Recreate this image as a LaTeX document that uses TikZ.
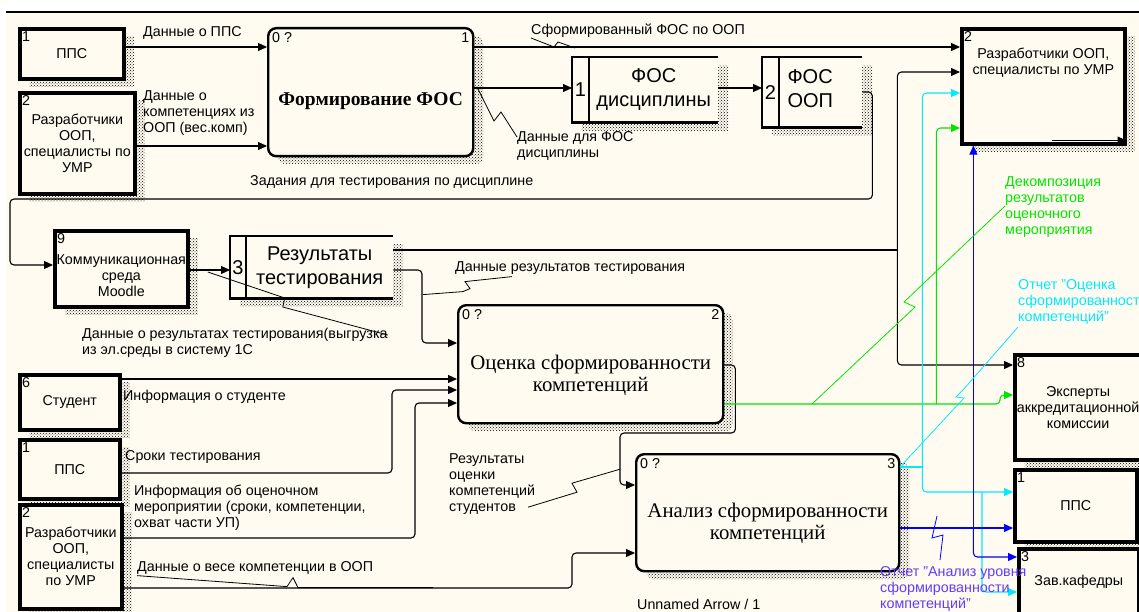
\documentclass[tikz,border=0pt]{standalone}
\usepackage{fontspec}
\setmainfont{Liberation Sans}
\newfontfamily\serifru{Liberation Serif}
\usetikzlibrary{arrows.meta,shadows,patterns}
\definecolor{bgcream}{RGB}{255,251,240}
\definecolor{idgreen}{RGB}{0,230,0}
\definecolor{idcyan}{RGB}{0,235,255}
\definecolor{idblue}{RGB}{0,0,255}
\definecolor{idviolet}{RGB}{100,60,250}
\newcommand{\lblfont}{\fontsize{14.3}{16}\selectfont}
\newcommand{\actfont}{\serifru\fontsize{20.8}{22}\selectfont}
\newcommand{\storefont}{\fontsize{20}{24}\selectfont}
\tikzset{
  idarr/.style={-{Triangle[length=9pt,width=8pt]}, line width=1.1pt, rounded corners=4pt},
  idline/.style={line width=1.1pt, rounded corners=4pt},
  idlead/.style={line width=0.8pt},
  idhatch/.style={drop shadow={shadow xshift=10pt, shadow yshift=-8pt, opacity=1, pattern=crosshatch dots, pattern color=black}},
}
\begin{document}
\begin{tikzpicture}[
  x=1pt, y=-1pt,
  font=\lblfont,
  extbox/.style={draw, line width=3.6pt, fill=bgcream, idhatch, align=center, inner sep=2pt, anchor=north west},
  actbox/.style={draw, line width=2.4pt, rounded corners=8pt, fill=bgcream, idhatch, anchor=north west},
  acttext/.style={font=\actfont, align=center, yshift=-11pt},
  storebox/.style={fill=bgcream, idhatch, anchor=north west, inner sep=0pt},
  boxno/.style={anchor=north west, inner sep=4pt, font=\lblfont},
  actno/.style={inner sep=5pt, font=\lblfont},
  storetxt/.style={font=\storefont, align=center},
  lbl/.style={inner sep=0pt, align=left},
]
  \useasboundingbox (0,0) rectangle (1139,612);
  \fill[white] (0,0) rectangle (1139,612);
  \fill[bgcream] (6,12) rectangle (1139,612);
  \draw[line width=1.4pt] (6,12) -- (1139,12);

  % sources and receivers
  \node[extbox, minimum width=104, minimum height=50, label={[boxno]north west:1}] (ppsA) at (18,27) {ППС};
  \node[extbox, minimum width=115, minimum height=101, label={[boxno]north west:2}] (razrA) at (18,91) {Разработчики\\ООП,\\специалисты по\\УМР};
  \node[extbox, minimum width=133, minimum height=76, label={[boxno]north west:9},
        label={[align=center, yshift=-7pt]center:{Коммуникационная\\среда\\Moodle}}] (moodle) at (53,229) {};
  \node[extbox, minimum width=100, minimum height=55, label={[boxno]north west:6}] (stud) at (18,373) {Студент};
  \node[extbox, minimum width=100, minimum height=59, label={[boxno]north west:1}] (ppsC) at (18,438) {ППС};
  \node[extbox, minimum width=102, minimum height=104, label={[boxno]north west:2}] (razrC) at (18,503) {Разработчики\\ООП,\\специалисты\\по УМР};
  \node[extbox, minimum width=163, minimum height=115, label={[boxno]north west:2},
        label={[anchor=north, yshift=-17pt, align=center]north:{Разработчики ООП,\\специалисты по УМР}}] (razrB) at (960,27) {};
  \node[extbox, minimum width=122, minimum height=105, label={[boxno]north west:8}] (exp) at (1013,353) {Эксперты\\аккредитационной\\комиссии};
  \node[extbox, minimum width=122, minimum height=72, label={[boxno]north west:1}] (ppsD) at (1013,468) {ППС};
  \node[extbox, minimum width=120, minimum height=65, label={[boxno]north west:3}] (zav) at (1017,547) {Зав.кафедры};

  % activities
  \node[actbox, minimum width=205, minimum height=128, label={[actno, anchor=north west]north west:0 ?},
        label={[actno, anchor=north east]north east:1},
        label={[acttext, yshift=2pt, font=\serifru\fontsize{19.5}{22}\selectfont\bfseries]center:Формирование ФОС}] (form) at (267,27) {};
  \node[actbox, minimum width=265, minimum height=118, label={[actno, anchor=north west]north west:0 ?},
        label={[actno, anchor=north east]north east:2},
        label={[acttext]center:{Оценка сформированности\\компетенций}}] (ocen) at (457,304) {};
  \node[actbox, minimum width=263, minimum height=117, label={[actno, anchor=north west]north west:0 ?},
        label={[actno, anchor=north east]north east:3},
        label={[acttext]center:{Анализ сформированности\\компетенций}}] (anal) at (635,453) {};

  % data stores
  \node[storebox, minimum width=146, minimum height=65, label={[anchor=center, xshift=8.5pt, font=\storefont]west:1},
        label={[storetxt, xshift=8.5pt]center:{ФОС\\дисциплины}}] (fosd) at (572,57) {};
  \node[storebox, minimum width=100, minimum height=70, label={[anchor=center, xshift=8.5pt, font=\storefont]west:2},
        label={[font=\storefont, align=left, anchor=west, xshift=22pt, yshift=4pt]west:{ФОС\\ООП}}] (fosoop) at (762,57) {};
  \node[storebox, minimum width=163, minimum height=62, label={[anchor=center, xshift=8pt, font=\storefont]west:3},
        label={[storetxt, xshift=8pt]center:{Результаты\\тестирования}}] (rez) at (230,236) {};
  \foreach \s/\d in {fosd/17, fosoop/17, rez/16}{
    \draw[line width=2.4pt] (\s.north east) -- (\s.north west) -- (\s.south west) -- (\s.south east);
    \draw[line width=2.4pt] ([xshift=\d]\s.north west) -- ([xshift=\d]\s.south west);
  }

  % black arrows
  \draw[idarr] ([yshift=-20]ppsA.north east) -- ([yshift=-20]form.north west);
  \draw[idarr] ([yshift=-55]razrA.north east) -- ([yshift=-119]form.north west);
  \draw[idarr] ([yshift=-20]form.north east) -- ([yshift=-20]razrB.north west);
  \draw[idarr] ([yshift=-61]form.north east) -- ([yshift=-31]fosd.north west);
  \draw[idarr] ([yshift=-31]fosd.north east) -- ([yshift=-31]fosoop.north west);
  \draw[idarr] ([yshift=-35]fosoop.north east) -- ++(10,0) -- ++(0,107) -| ([xshift=-43,yshift=-36]moodle.north west) -- ([yshift=-36]moodle.north west);
  \draw[idarr] ([yshift=-41]moodle.north east) -- ([yshift=-34]rez.north west);
  \draw[idline] ([yshift=-14]rez.north east) -- ++(504,0) coordinate (hfork);
  \draw[idarr] (hfork) |- ([yshift=-45]razrB.north west);
  \draw[idarr] (hfork) |- ([yshift=-12]exp.north west);
  \draw[idarr] ([yshift=-34]rez.north east) -| ([xshift=-35,yshift=-39]ocen.north west) -- ([yshift=-39]ocen.north west);
  \draw[idarr] ([yshift=-6]stud.north east) -- ([yshift=-75]ocen.north west);
  \draw[idarr] ([yshift=-35]ppsC.north east) -| ([xshift=-65,yshift=-86]ocen.north west) -- ([yshift=-86]ocen.north west);
  \draw[idarr] ([yshift=-35]razrC.north east) -| ([xshift=-42,yshift=-99]ocen.north west) -- ([yshift=-99]ocen.north west);
  \draw[idarr] ([yshift=-85]razrC.north east) -| ([xshift=-63,yshift=-100]anal.north west) -- ([yshift=-100]anal.north west);
  \draw[idarr] ([yshift=-61]ocen.north east) -- ++(11,0) -- ++(0,68) -| ([xshift=-15,yshift=-32]anal.north west) -- ([yshift=-32]anal.north west);
  \draw[idarr] ([xshift=-75,yshift=5]razrB.south east) -- ([yshift=5]razrB.south east);

  % coloured arrows
  \draw[idarr, draw=idgreen] ([yshift=-100]ocen.north east) -| ([xshift=-13,yshift=-42]exp.north west) -- ([yshift=-42]exp.north west);
  \coordinate (gfork) at ([xshift=212,yshift=-100]ocen.north east);
  \draw[idarr, draw=idgreen] (gfork) |- ([yshift=-101]razrB.north west);
  \draw[idline, draw=idcyan] ([yshift=-14]anal.north east) -- ++(22,0) coordinate (cfork);
  \draw[idarr, draw=idcyan] (cfork) |- ([yshift=-66]razrB.north west);
  \draw[idarr, draw=idcyan] (cfork) |- ([yshift=-24]ppsD.north west);
  \draw[idarr, draw=idcyan] ([xshift=-31,yshift=-24]ppsD.north west) |- ([yshift=-45]zav.north west);
  \draw[idarr, draw=idblue] ([yshift=-75]anal.north east) -- ([yshift=-60]ppsD.north west);
  \coordinate (bfork) at ([xshift=73,yshift=-75]anal.north east);
  \draw[idarr, draw=idblue] (bfork) -- (bfork |- razrB.south);
  \draw[idarr, draw=idblue] (bfork) |- ([yshift=-10]zav.north west);

  % arrow labels
  \node[lbl, anchor=west] (lbA) at (143,33) {Данные о ППС};
  \node[lbl, anchor=north west] (lbB) at (143,90) {Данные о\\компетенциях из\\ООП (вес.комп)};
  \node[lbl, anchor=west] (lbC) at (531,31) {Сформированный ФОС по ООП};
  \node[lbl, anchor=north west] (lbD) at (517,131) {Данные для ФОС\\дисциплины};
  \node[lbl, anchor=west] (lbF) at (250,182) {Задания для тестирования по дисциплине};
  \node[lbl, anchor=north west] (lbG) at (82,328) {Данные о результатах тестирования(выгрузка\\из эл.среды в систему 1С};
  \node[lbl, anchor=west] (lbI) at (455,268) {Данные результатов тестирования};
  \node[lbl, anchor=west] (lbJ) at (123,397) {Информация о студенте};
  \node[lbl, anchor=west] (lbK) at (125,457) {Сроки тестирования};
  \node[lbl, anchor=north west] (lbL) at (134,485) {Информация об оценочном\\мероприятии (сроки, компетенции,\\охват части УП)};
  \node[lbl, anchor=west] (lbM) at (137,568) {Данные о весе компетенции в ООП};
  \node[lbl, anchor=north west] (lbN) at (449,453) {Результаты\\оценки\\компетенций\\студентов};
  \node[lbl, anchor=north west, text=idgreen] (lbO) at (1005,176) {Декомпозиция\\результатов\\оценочного\\мероприятия};
  \node[lbl, anchor=north west, text=idcyan] (lbP) at (1018,279) {Отчет "Оценка\\сформированност\\компетенций"};
  \node[lbl, anchor=north west, text=idviolet] (lbQ) at (880,566) {Отчет "Анализ уровня\\сформированности\\компетенций"};
  \node[lbl, anchor=west] (lbU) at (637,604) {Unnamed Arrow / 1};

  % label leaders
  \draw[idlead] (lbC.south west) -- ++(23,9) -- ++(4,-5) -- ++(17,6);
  \draw[idlead] ([yshift=-6]lbD.north west) -- ++(-16,-25) -- ++(-7,9) -- ++(-17,-34);
  \draw[idlead] ([yshift=-7]lbG.north east) -- ++(-105,-28) -- ++(2,-9) -- ++(-77,-26);
  \draw[idlead] ([xshift=57,yshift=-2]lbI.south west) -- ++(-47,5) -- ++(5,7) -- ++(-7,3) -- ++(-40,3);
  \draw[idlead] ([yshift=-1]lbM.south west) -- ++(150,11) -- ++(6,-9) -- ++(5,10) -- ++(135,0);
  \draw[idlead] ([xshift=79,yshift=7]lbN.south west) -- ++(49,-15) -- ++(-5,-9) -- ++(48,-14);
  \draw[idlead, draw=idgreen] ([yshift=-30]lbO.north west) -- ++(-101,96) -- ++(11,5) -- ++(-103,97);
  \draw[idlead, draw=idcyan] ([yshift=-48]lbP.north west) -- ++(-55,63) -- ++(-7,7) -- ++(8,1) -- ++(-64,69);
  \draw[idlead, draw=idblue] ([xshift=60,yshift=6]lbQ.north west) -- ++(3,-25) -- ++(-11,3) -- ++(5,-22);
\end{tikzpicture}
\end{document}
